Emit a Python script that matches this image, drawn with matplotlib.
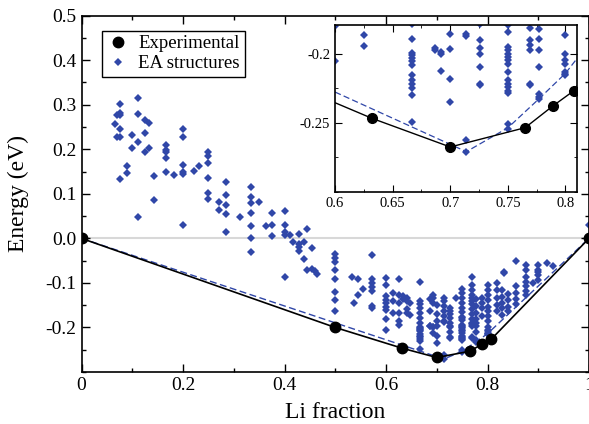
import matplotlib
matplotlib.use("Agg")
import matplotlib.pyplot as plt
from matplotlib.ticker import MultipleLocator, FixedLocator

plt.rcParams['font.family'] = 'serif'
plt.rcParams['font.serif'] = ['Liberation Serif', 'DejaVu Serif']
plt.rcParams['axes.unicode_minus'] = False

# experimental ground states (convex hull)
exp_x = [0.0, 0.5, 0.632, 0.70, 0.765, 0.789, 0.807, 1.0]
exp_e = [0.0, -0.200, -0.2466, -0.2674, -0.2534, -0.2377, -0.2268, 0.0]

# hull of the EA structures (dashed)
ea_hull_x = [0.0, 0.714, 0.75, 0.777, 0.80, 1.0]
ea_hull_e = [0.0, -0.2708, -0.2535, -0.2325, -0.214, 0.0]

# EA structures, grouped by composition
ea_comp = [0.0, 0.065, 0.070, 0.0765, 0.0905, 0.0995, 0.111, 0.1245, 0.133, 0.142,
           0.1665, 0.1816, 0.1994, 0.2217, 0.231, 0.249, 0.2715, 0.2847, 0.3123,
           0.3334, 0.35, 0.363, 0.3748, 0.4004, 0.411, 0.416, 0.4286, 0.4378,
           0.444, 0.4548, 0.46, 0.4635, 0.5, 0.5336, 0.5376, 0.5455, 0.555, 0.5718,
           0.6, 0.614, 0.625, 0.634, 0.641, 0.647, 0.667, 0.687, 0.692, 0.7,
           0.714, 0.726, 0.737, 0.75, 0.7696, 0.7768, 0.7885, 0.8, 0.818, 0.828,
           0.833, 0.841, 0.857, 0.875, 0.889, 0.9, 0.9166, 0.93, 1.0]
ea_energy = [
    [0.0],
    [0.256],
    [0.277, 0.227],
    [0.302, 0.281, 0.276, 0.245, 0.227, 0.133],
    [0.162, 0.147],
    [0.233, 0.204],
    [0.316, 0.279, 0.217, 0.047],
    [0.265, 0.237, 0.195],
    [0.258, 0.204],
    [0.140, 0.086],
    [0.210, 0.199, 0.193, 0.180, 0.148],
    [0.142],
    [0.245, 0.227, 0.165, 0.149, 0.144, 0.029],
    [0.151],
    [0.162],
    [0.193, 0.184, 0.170, 0.135, 0.103, 0.088],
    [0.082, 0.064],
    [0.127, 0.097, 0.074, 0.055, 0.015],
    [0.049],
    [0.116, 0.094, 0.079, 0.057, 0.027, 0.002, -0.030],
    [0.081],
    [0.027],
    [0.058, 0.031, 0.005],
    [0.0615, 0.031, 0.014, 0.007, -0.086],
    [0.007],
    [-0.009],
    [0.010, -0.013, -0.019, -0.029],
    [-0.008, -0.047],
    [0.022, -0.070],
    [-0.021, -0.068],
    [-0.073],
    [-0.080],
    [-0.034, -0.045, -0.054, -0.071, -0.092, -0.121, -0.139, -0.162],
    [-0.086],
    [-0.145],
    [-0.092, -0.127],
    [-0.114],
    [-0.038, -0.092, -0.101, -0.110, -0.119, -0.151, -0.156],
    [-0.090, -0.104, -0.130, -0.138, -0.145, -0.153, -0.160, -0.180, -0.205],
    [-0.123, -0.140, -0.167],
    [-0.091, -0.127, -0.145, -0.167, -0.186, -0.194],
    [-0.129, -0.136],
    [-0.134, -0.141, -0.159, -0.167],
    [-0.145, -0.171],
    [-0.097, -0.141, -0.148, -0.156, -0.167, -0.178, -0.189, -0.199, -0.201,
     -0.203, -0.205, -0.208, -0.215, -0.219, -0.222, -0.225, -0.230, -0.249],
    [-0.137, -0.163, -0.197, -0.1957],
    [-0.127, -0.134, -0.145, -0.1986, -0.200, -0.2125],
    [-0.150, -0.170, -0.1857, -0.1962, -0.2183, -0.2348],
    [-0.134, -0.141, -0.152, -0.163, -0.174, -0.1853, -0.187, -0.2625, -0.271],
    [-0.156, -0.163, -0.170, -0.178, -0.190, -0.196, -0.1998, -0.2094, -0.2215, -0.2227],
    [-0.134],
    [-0.114, -0.122, -0.134, -0.145, -0.156, -0.166, -0.177, -0.179, -0.184, -0.195,
     -0.197, -0.200, -0.2022, -0.2046, -0.207, -0.213, -0.219, -0.2216, -0.224,
     -0.2266, -0.228, -0.2505, -0.2541],
    [-0.086, -0.104, -0.115, -0.126, -0.134, -0.141, -0.148, -0.159, -0.170, -0.181,
     -0.190, -0.1933, -0.1973, -0.2215, -0.2227],
    [-0.137, -0.152, -0.167, -0.1817, -0.1889, -0.1973, -0.2094, -0.2288, -0.2312, -0.2328],
    [-0.134, -0.145, -0.156, -0.175],
    [-0.104, -0.116, -0.127, -0.138, -0.153, -0.164, -0.175, -0.1865, -0.1998,
     -0.2046, -0.207, -0.213, -0.2143, -0.2154],
    [-0.100, -0.116, -0.134, -0.149, -0.164],
    [-0.116, -0.131, -0.145, -0.156, -0.171],
    [-0.075, -0.078],
    [-0.124, -0.138, -0.153, -0.164],
    [-0.050, -0.107, -0.122, -0.136, -0.147],
    [-0.060, -0.071, -0.086, -0.097, -0.108, -0.119, -0.127],
    [-0.100],
    [-0.060, -0.071, -0.075, -0.082, -0.093],
    [-0.056],
    [-0.062],
    [0.029, 0.0],
]

ea_x = []
ea_e = []
for c, es in zip(ea_comp, ea_energy):
    ea_x += [c] * len(es)
    ea_e += es

blue = '#3047a8'

fig = plt.figure(figsize=(5.89, 4.24), dpi=100)
ax = fig.add_axes([0.1384, 0.1226, 0.8616, 0.8404])

ax.axhline(0, color='#d8d8d8', lw=1.5, zorder=0)
ax.plot(ea_hull_x, ea_hull_e, '--', color=blue, lw=1.0, dashes=(5, 2.5), zorder=2)
ax.plot(exp_x, exp_e, '-', color='black', lw=1.2, zorder=3)
ax.plot(ea_x, ea_e, 'D', color=blue, ms=3.8, mew=0, ls='none', zorder=2,
        label='EA structures')
ax.plot(exp_x, exp_e, 'o', color='black', ms=7.5, ls='none', zorder=4,
        label='Experimental')

ax.set_xlim(0, 1)
ax.set_ylim(-0.3, 0.5)
ax.xaxis.set_major_locator(FixedLocator([0, 0.2, 0.4, 0.6, 0.8, 1.0]))
ax.set_xticklabels(['0', '0.2', '0.4', '0.6', '0.8', '1'])
ax.xaxis.set_minor_locator(MultipleLocator(0.1))
ax.yaxis.set_major_locator(FixedLocator([-0.2, -0.1, 0.0, 0.1, 0.2, 0.3, 0.4, 0.5]))
ax.set_yticklabels(['-0.2', '-0.1', '0.0', '0.1', '0.2', '0.3', '0.4', '0.5'])
ax.yaxis.set_minor_locator(MultipleLocator(0.05))
ax.tick_params(which='both', direction='in', top=True, right=True, labelsize=14,
               width=1)
ax.tick_params(which='major', length=6)
ax.tick_params(which='minor', length=3)
for s in ax.spines.values():
    s.set_linewidth(1.2)
ax.set_xlabel('Li fraction', fontsize=17, labelpad=6)
ax.set_ylabel('Energy (eV)', fontsize=17)
ax.yaxis.set_label_coords(-0.103, 0.5)

handles, labels = ax.get_legend_handles_labels()
leg = ax.legend(handles[::-1], labels[::-1], loc='upper left',
                bbox_to_anchor=(0.04, 0.958), borderaxespad=0, fontsize=13.5,
                fancybox=False, edgecolor='black', framealpha=1,
                handlelength=1.2, handletextpad=0.5, borderpad=0.25,
                labelspacing=0.15)
leg.get_frame().set_linewidth(1.0)

# inset around the minimum
ins = fig.add_axes([0.5688, 0.5472, 0.4108, 0.3938])
ins.plot(ea_hull_x, ea_hull_e, '--', color=blue, lw=0.9, dashes=(5, 2.5), zorder=2)
ins.plot(exp_x, exp_e, '-', color='black', lw=1.0, zorder=3)
ins.plot(ea_x, ea_e, 'D', color=blue, ms=3.6, mew=0, ls='none', zorder=2)
ins.plot(exp_x, exp_e, 'o', color='black', ms=7, ls='none', zorder=4)
ins.set_xlim(0.6, 0.81)
ins.set_ylim(-0.30, -0.179)
ins.xaxis.set_major_locator(FixedLocator([0.6, 0.65, 0.7, 0.75, 0.8]))
ins.set_xticklabels(['0.6', '0.65', '0.7', '0.75', '0.8'])
ins.xaxis.set_minor_locator(MultipleLocator(0.025))
ins.yaxis.set_major_locator(FixedLocator([-0.25, -0.2]))
ins.set_yticklabels(['-0.25', '-0.2'])
ins.yaxis.set_minor_locator(MultipleLocator(0.025))
ins.tick_params(which='both', direction='in', top=True, right=True, labelsize=10.5)
ins.tick_params(which='major', length=5)
ins.tick_params(which='minor', length=2.5)
for s in ins.spines.values():
    s.set_linewidth(1.2)

fig.savefig('out.png', dpi=100)
